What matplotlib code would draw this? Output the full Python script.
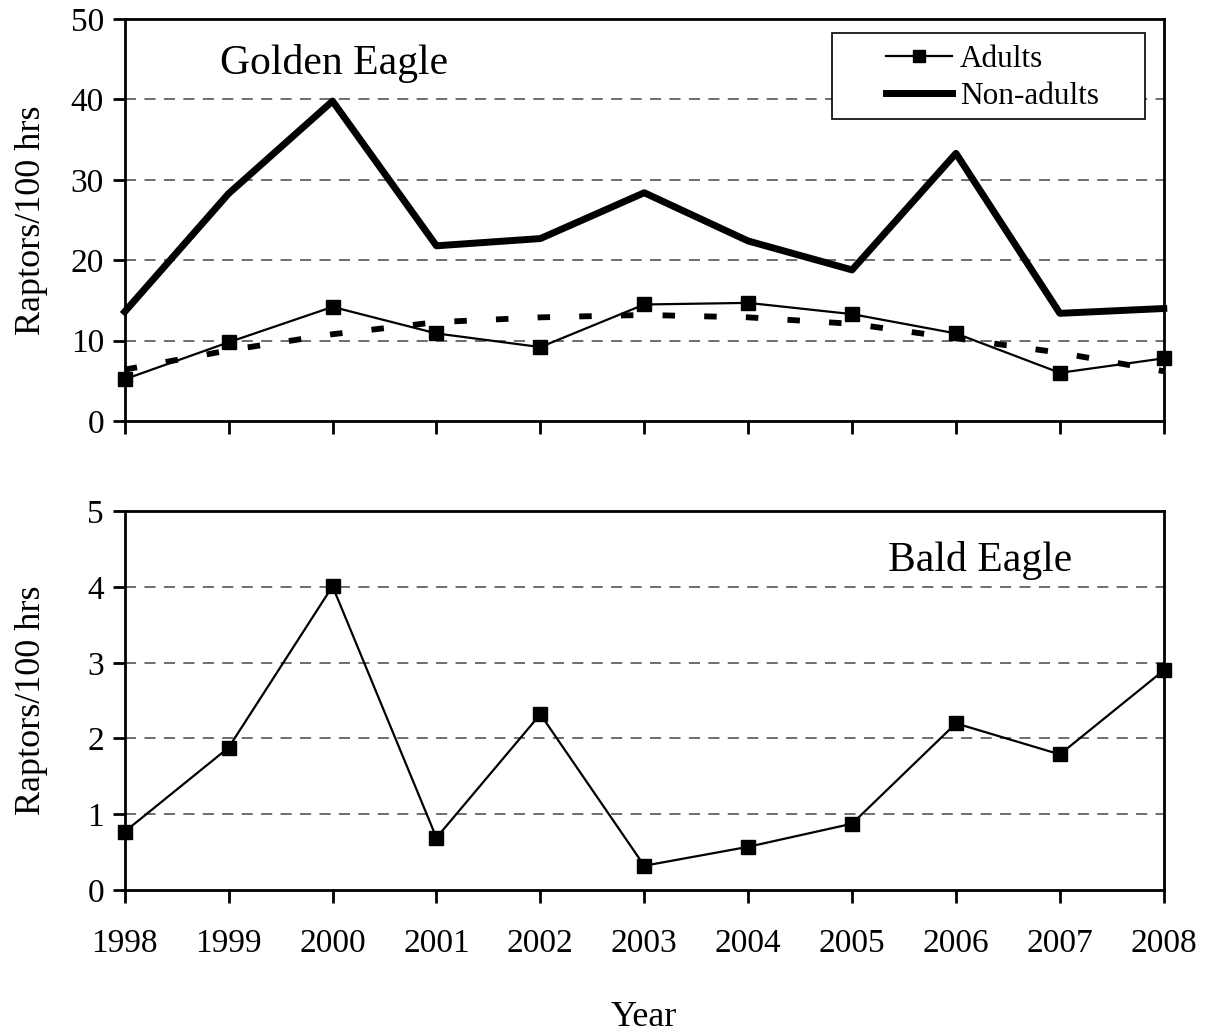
import matplotlib.pyplot as plt
from matplotlib.patches import Rectangle
import numpy as np

plt.rcParams['font.family'] = ['Liberation Serif', 'DejaVu Serif']
plt.rcParams['lines.scale_dashes'] = False

years = [1998, 1999, 2000, 2001, 2002, 2003, 2004, 2005, 2006, 2007, 2008]

# golden eagle counts (raptors per 100 hrs)
golden_adults = [5.2, 9.8, 14.2, 10.9, 9.2, 14.5, 14.7, 13.3, 10.9, 6.0, 7.8]
golden_nonadults = [13.6, 28.3, 39.8, 21.8, 22.7, 28.4, 22.4, 18.8, 33.3, 13.4, 14.0]
golden_trend = [6.4, 8.8, 10.8, 12.3, 12.9, 13.2, 12.9, 12.1, 10.3, 8.5, 6.2]

# bald eagle counts
bald_adults = [0.77, 1.88, 4.01, 0.69, 2.32, 0.32, 0.57, 0.875, 2.2, 1.79, 2.9]

fig = plt.figure(figsize=(12.11, 10.32), dpi=100)
ax1 = fig.add_axes([0.103, 0.592, 0.858, 0.3895])
ax2 = fig.add_axes([0.103, 0.1376, 0.858, 0.367])

tick_fs = 24
grid_kw = dict(color='#555555', linewidth=1.2, dashes=(8, 6))


def style_axes(ax, ymax, step):
    ax.set_xlim(years[0], years[-1])
    ax.set_ylim(0, ymax)
    ax.set_xticks(years)
    ax.set_yticks(np.arange(0, ymax + step / 2, step))
    for s in ax.spines.values():
        s.set_linewidth(2)
    ax.tick_params(axis='both', direction='out', width=2, length=9,
                   labelsize=tick_fs, pad=6)
    for v in np.arange(step, ymax, step):
        ax.axhline(v, zorder=0, **grid_kw)
    ax.set_ylabel('Raptors/100 hrs', fontsize=26)
    ax.yaxis.set_label_coords(-0.074, 0.5)


# --- Golden Eagle ---
style_axes(ax1, 50, 10)
ax1.set_xticklabels([])
ax1.plot(years, golden_trend, color='black', linewidth=4.2, dashes=(9, 21),
         clip_on=False, zorder=2)
ax1.plot(years, golden_adults, color='black', linewidth=1.6, marker='s',
         markersize=10, label='Adults', clip_on=False, zorder=3)
ax1.plot(years, golden_nonadults, color='black', linewidth=5,
         label='Non-adults', clip_on=False, zorder=3)
ax1.text(0.092, 0.89, 'Golden Eagle', transform=ax1.transAxes,
         fontsize=30, va='center', ha='left')

# legend box drawn separately so the padding can be uneven
ax1.add_patch(Rectangle((0.681, 0.751), 0.301, 0.214, transform=ax1.transAxes,
                        facecolor='white', edgecolor='black', linewidth=1.2,
                        zorder=4, clip_on=False))
leg = ax1.legend(loc='upper left', bbox_to_anchor=(0.733, 0.935),
                 fontsize=22.5, frameon=False, handlelength=2.1,
                 handletextpad=0.25, borderpad=0, labelspacing=0.25,
                 borderaxespad=0, markerscale=0.8)
leg.set_zorder(5)

# --- Bald Eagle ---
style_axes(ax2, 5, 1)
ax2.set_xticklabels([str(y) for y in years])
ax2.tick_params(axis='x', pad=19)
ax2.plot(years, bald_adults, color='black', linewidth=1.6, marker='s',
         markersize=10, clip_on=False, zorder=3)
ax2.text(0.735, 0.87, 'Bald Eagle', transform=ax2.transAxes,
         fontsize=30, va='center', ha='left')
ax2.set_xlabel('Year', fontsize=26, labelpad=30)

fig.savefig('out.png', dpi=100)
